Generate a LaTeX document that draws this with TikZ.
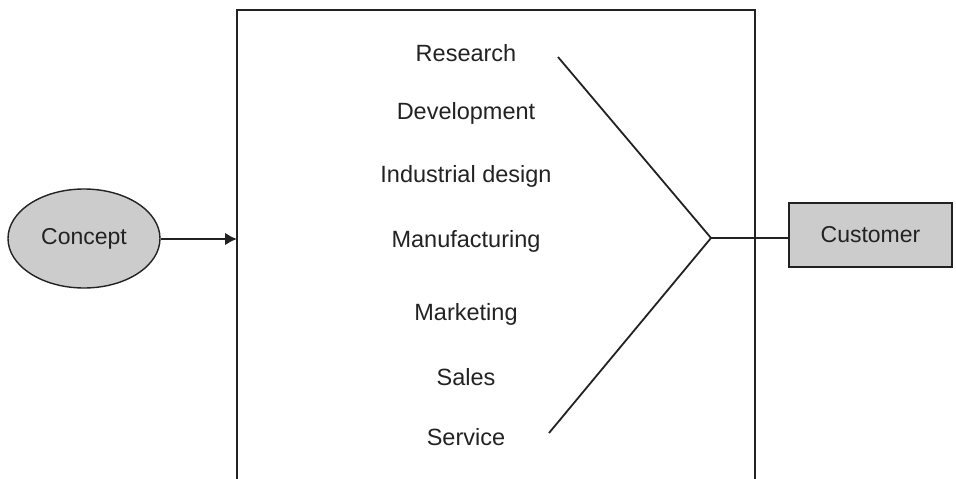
\documentclass[tikz,border=0pt]{standalone}
\usepackage{fontspec}
\setmainfont{Liberation Sans}
\usetikzlibrary{arrows.meta,shapes.geometric}
\definecolor{shade}{HTML}{CCCCCC}
\definecolor{ink}{HTML}{222222}
\begin{document}
\begin{tikzpicture}[x=1pt,y=-1pt,
  lbl/.style={font=\fontsize{23.5}{28}\selectfont, text=ink, inner sep=0pt},
  shapeline/.style={draw=ink, line width=1.4pt, fill=shade},
  conn/.style={draw=ink, line width=1.8pt}]
\useasboundingbox (0,0) rectangle (956,479);
% open-bottom box
\draw[draw=ink, line width=2pt] (237,481) -- (237,10) -- (755,10) -- (755,481);
\coordinate (boxin) at (237,239);
% labels
\node[lbl] (research) at (466,53) {Research};
\node[lbl] (development) at (466,113) {Development};
\node[lbl] (industrial) at (466,176) {Industrial design};
\node[lbl] (manufacturing) at (466,241) {Manufacturing};
\node[lbl] (marketing) at (466,314) {Marketing};
\node[lbl] (sales) at (466,377) {Sales};
\node[lbl] (service) at (466,437) {Service};
% concept ellipse
\node[shapeline, ellipse, minimum width=152, minimum height=99, inner sep=0pt, font=\fontsize{23}{28}\selectfont, text=ink] (concept) at (84,238.5) {Concept};
% customer box
\node[shapeline, rectangle, minimum width=163, minimum height=64, inner sep=0pt, font=\fontsize{23}{28}\selectfont, text=ink] (customer) at (870.5,235) {Customer};
% chevron
\coordinate (top) at (558,57);
\coordinate (bot) at (549,433);
\coordinate (apex) at (711,238);
\draw[conn, line join=miter] (top) -- (apex) -- (bot);
\draw[conn] (apex) -- (customer.west |- apex);
\draw[draw=ink, line width=2.6pt, -{Latex[length=12pt,width=13pt]}] (concept.east |- boxin) -- (boxin);
\end{tikzpicture}
\end{document}
